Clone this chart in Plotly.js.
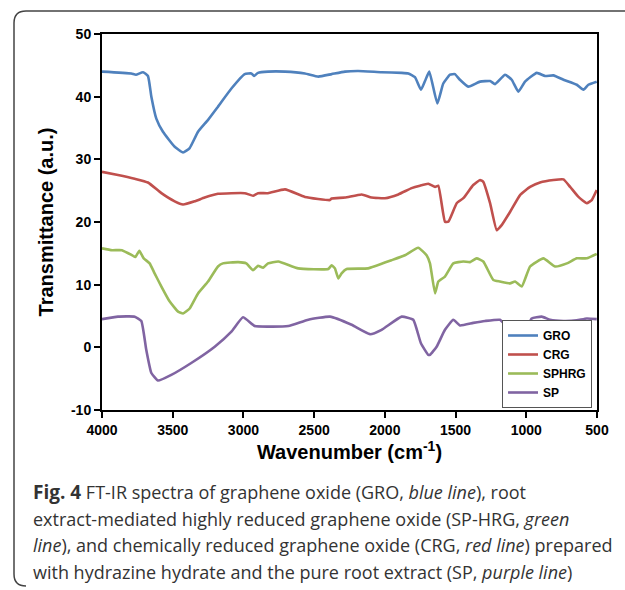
<!DOCTYPE html>
<html>
<head>
<meta charset="utf-8">
<script src="https://cdn.plot.ly/plotly-3.0.1.min.js"></script>
<style>
  html, body { margin: 0; padding: 0; background: #fff; }
  #chart { width: 625px; height: 590px; }
</style>
</head>
<body>
<div id="chart"></div>
<script>
// ---- Data ----
const groWn  = [4000, 3793, 3760, 3710, 3675, 3651, 3616, 3569, 3486, 3427, 3380, 3321, 3250, 3180, 3085, 2991, 2944, 2925, 2897, 2826, 2706, 2565, 2470, 2376, 2282, 2188, 2023, 1881, 1834, 1787, 1745, 1716, 1686, 1629, 1587, 1539, 1505, 1469, 1410, 1327, 1256, 1221, 1150, 1103, 1056, 1009, 926, 867, 808, 737, 643, 596, 561, 502];
const groVal = [44.0, 43.7, 43.5, 43.9, 43.3, 40.0, 36.5, 34.4, 32.0, 31.1, 31.8, 34.4, 36.3, 38.4, 41.3, 43.6, 43.7, 43.3, 43.8, 44.0, 44.0, 43.7, 43.2, 43.6, 44.0, 44.1, 43.9, 43.8, 43.7, 43.1, 41.1, 42.5, 44.0, 38.9, 42.1, 43.5, 43.6, 42.7, 41.6, 42.4, 42.5, 42.0, 43.5, 42.7, 40.8, 42.4, 43.8, 43.3, 43.4, 42.7, 41.9, 41.1, 41.9, 42.4];

const crgWn  = [4000, 3887, 3769, 3675, 3580, 3486, 3427, 3345, 3274, 3180, 2991, 2932, 2897, 2826, 2706, 2565, 2388, 2376, 2282, 2164, 2094, 1999, 1905, 1811, 1752, 1693, 1645, 1622, 1575, 1551, 1492, 1445, 1375, 1327, 1304, 1256, 1209, 1174, 1115, 1044, 973, 903, 808, 737, 690, 631, 572, 537, 502];
const crgVal = [28.0, 27.5, 26.9, 26.3, 24.6, 23.3, 22.8, 23.3, 23.9, 24.5, 24.6, 24.2, 24.6, 24.6, 25.2, 24.0, 23.5, 23.75, 23.9, 24.4, 23.9, 23.8, 24.4, 25.4, 25.8, 26.1, 25.6, 25.8, 20.05, 20.05, 23.0, 23.8, 25.9, 26.7, 26.4, 23.0, 18.7, 19.5, 21.6, 24.3, 25.6, 26.3, 26.7, 26.8, 25.6, 24.0, 23.0, 23.5, 25.1];

const sphrgWn  = [4000, 3929, 3859, 3788, 3764, 3736, 3705, 3663, 3628, 3580, 3521, 3462, 3427, 3380, 3321, 3250, 3180, 3145, 3038, 2980, 2932, 2897, 2861, 2826, 2753, 2612, 2400, 2376, 2353, 2329, 2306, 2270, 2118, 1953, 1858, 1764, 1705, 1681, 1645, 1622, 1575, 1516, 1445, 1398, 1351, 1304, 1233, 1186, 1115, 1079, 1032, 973, 879, 796, 713, 643, 572, 502];
const sphrgVal = [15.8, 15.5, 15.5, 14.7, 14.4, 15.4, 14.2, 13.4, 11.8, 9.7, 7.3, 5.7, 5.4, 6.2, 8.6, 10.5, 12.9, 13.4, 13.6, 13.4, 12.3, 13.0, 12.7, 13.4, 13.7, 12.6, 12.5, 13.1, 12.6, 11.0, 11.8, 12.5, 12.6, 13.9, 14.7, 15.9, 14.7, 13.4, 8.6, 10.5, 11.3, 13.4, 13.7, 13.6, 14.2, 13.7, 10.75, 10.5, 10.2, 10.5, 9.7, 12.9, 14.2, 12.9, 13.4, 14.2, 14.2, 14.9];

const spWn  = [4000, 3887, 3769, 3722, 3687, 3651, 3604, 3510, 3369, 3203, 3085, 3003, 2920, 2826, 2682, 2541, 2388, 2235, 2105, 2023, 1881, 1799, 1745, 1693, 1681, 1634, 1575, 1516, 1469, 1375, 1292, 1186, 1139, 1044, 997, 962, 891, 832, 737, 643, 572, 502];
const spVal = [4.5, 4.9, 4.9, 4.2, -0.4, -4.1, -5.3, -4.4, -2.5, 0.1, 2.5, 4.8, 3.4, 3.3, 3.4, 4.4, 4.9, 3.6, 2.1, 2.8, 4.9, 4.4, 0.65, -1.2, -1.2, 0.1, 2.8, 4.4, 3.5, 3.9, 4.2, 4.4, 3.4, 2.5, 3.0, 4.6, 4.9, 4.4, 4.2, 4.3, 4.6, 4.5];

const seriesNames = ["GRO", "CRG", "SPHRG", "SP"];
const xTickVals = [4000, 3500, 3000, 2500, 2000, 1500, 1000, 500];
const yTickVals = [-10, 0, 10, 20, 30, 40, 50];

const captionLines = [
  "<span style=\"font-size:19px\"><b>Fig. 4</b></span> FT-IR spectra of graphene oxide (GRO, <i>blue line</i>), root",
  "extract-mediated highly reduced graphene oxide (SP-HRG, <i>green</i>",
  "<i>line</i>), and chemically reduced graphene oxide (CRG, <i>red line</i>) prepared",
  "with hydrazine hydrate and the pure root extract (SP, <i>purple line</i>)"
];

// ---- Styles ----
const colors = ["#4F81BD", "#C0504D", "#9BBB59", "#8064A2"];
const xs = [groWn, crgWn, sphrgWn, spWn];
const ys = [groVal, crgVal, sphrgVal, spVal];

const traces = seriesNames.map((n, i) => ({
  type: "scatter", mode: "lines", name: n,
  x: xs[i], y: ys[i],
  line: { color: colors[i], width: 2.6, shape: "spline", smoothing: 0.4 }
}));

const W = 625, H = 590, L = 102, R = 28, T = 34, B = 180;
const pw = W - L - R, ph = H - T - B;
const px = v => (v - L) / pw;
const py = v => 1 - (v - T) / ph;

const fx = px(14), fy = py(11), fr = px(625), fb = py(586);
const rx = 12 / pw, ry = 12 / ph;
const framePath = `M ${fr},${fy} L ${fx + rx},${fy} Q ${fx},${fy} ${fx},${fy - ry} L ${fx},${fb + ry} Q ${fx},${fb} ${fx + rx},${fb}`;

const captionY = [492, 518.5, 545, 571.5];
const annotations = captionLines.map((t, i) => ({
  xref: "paper", yref: "paper", x: px(31), y: py(captionY[i]),
  xanchor: "left", yanchor: "middle", showarrow: false, align: "left",
  text: t, font: { family: "Open Sans", size: 18, color: "#333" }
}));

const tickFont = { family: "Liberation Sans, Arial", size: 14, color: "#000", weight: "bold" };

const layout = {
  width: W, height: H,
  margin: { l: L, r: R, t: T, b: B },
  paper_bgcolor: "#fff", plot_bgcolor: "#fff",
  showlegend: true,
  legend: {
    x: px(592), xanchor: "right", y: py(408), yanchor: "bottom",
    bgcolor: "#fff", bordercolor: "#555", borderwidth: 1,
    font: { family: "Liberation Sans, Arial", size: 12, color: "#000", weight: "bold" },
    itemwidth: 30, tracegroupgap: 0
  },
  xaxis: {
    range: [4000, 500], tickvals: xTickVals, ticktext: xTickVals.map(String),
    ticks: "outside", ticklen: 6, tickwidth: 2, tickcolor: "#000",
    showline: true, linewidth: 2, linecolor: "#000", mirror: true,
    showgrid: false, zeroline: false, tickfont: tickFont,
    title: { text: "Wavenumber (cm<sup>-1</sup>)", font: { family: "Liberation Sans, Arial", size: 20, color: "#000", weight: "bold" }, standoff: 8 }
  },
  yaxis: {
    range: [-10, 50], tickvals: yTickVals, ticktext: yTickVals.map(String),
    ticks: "outside", ticklen: 6, tickwidth: 2, tickcolor: "#000",
    showline: true, linewidth: 2, linecolor: "#000", mirror: true,
    showgrid: false, zeroline: false, tickfont: tickFont,
    title: { text: "Transmittance (a.u.)", font: { family: "Liberation Sans, Arial", size: 20, color: "#000", weight: "bold" }, standoff: 12 }
  },
  shapes: [{
    type: "path", xref: "paper", yref: "paper", path: framePath,
    line: { color: "#444", width: 1.5 }, layer: "below"
  }],
  annotations: annotations
};

Plotly.newPlot("chart", traces, layout, { staticPlot: true, displayModeBar: false });
</script>
</body>
</html>
